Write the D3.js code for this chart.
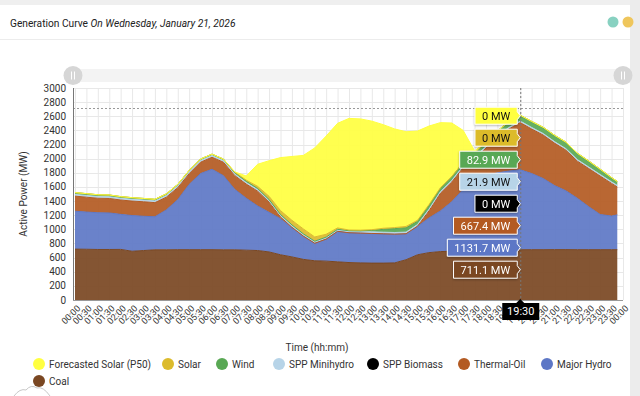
<!DOCTYPE html>
<html>
<head>
<meta charset="utf-8">
<script src="https://cdn.jsdelivr.net/npm/d3@7"></script>
<style>
  html, body { margin: 0; padding: 0; background: #fff; }
  svg { display: block; font-family: Roboto, "Liberation Sans", Arial, sans-serif; }
</style>
</head>
<body>
<svg id="chart" width="640" height="396"></svg>
<script>
// generation by source, MW, every 30 min (last point 23:45)
const times = ["00:00","00:30","01:00","01:30","02:00","02:30","03:00","03:30","04:00","04:30",
  "05:00","05:30","06:00","06:30","07:00","07:30","08:00","08:30","09:00","09:30",
  "10:00","10:30","11:00","11:30","12:00","12:30","13:00","13:30","14:00","14:30",
  "15:00","15:30","16:00","16:30","17:00","17:30","18:00","18:30","19:00","19:30",
  "20:00","20:30","21:00","21:30","22:00","22:30","23:00","23:30","23:45"];

const coal = [720,718,715,715,716,690,700,710,710,712,712,712,712,710,710,705,700,680,640,610,
  575,555,550,540,530,525,522,522,525,570,640,670,685,690,695,700,705,708,710,711.1,
  712,712,713,713,712,712,712,712,712];
const majorHydro = [536,527,520,517,496,505,485,468,565,708,924,1078,1138,1050,855,735,630,560,510,410,
  325,245,310,430,420,420,418,413,405,365,400,490,575,700,870,990,1055,1092,1115,1131.7,
  1078,1008,907,832,728,608,498,476,493];
const thermalOil = [214,210,205,205,203,205,205,200,180,170,152,160,170,190,195,200,210,145,25,10,
  5,3,2,2,2,2,2,2,2,3,5,100,250,280,308,310,390,500,595,667.4,
  630,615,600,575,525,540,544,462,395];
const sppBiomass = [0,0,0,0,0,0,0,0,0,0,0,0,0,0,0,0,0,0,0,0,
  0,0,0,0,0,0,0,0,0,0,0,0,0,0,0,0,0,0,0,0,
  0,0,0,0,0,0,0,0,0];
const sppMinihydro = [24,24,24,24,24,24,24,24,24,24,24,24,24,24,23,23,23,23,23,23,
  23,23,23,23,23,23,23,23,23,23,23,23,22,22,22,22,22,22,22,21.9,
  22,22,22,22,22,22,22,22,22];
const wind = [26,26,25,25,24,24,23,23,22,22,21,21,20,20,20,18,15,14,12,10,
  8,6,5,5,5,8,20,40,55,60,45,50,45,50,50,55,65,72,78,82.9,
  85,88,90,92,90,85,75,60,55];
const solar = [0,0,0,0,0,0,0,0,0,0,0,0,0,0,5,15,30,45,55,65,
  70,60,40,20,10,10,10,15,15,20,15,15,10,5,0,0,0,0,0,0,
  0,0,0,0,0,0,0,0,0];
const forecastSolar = [0,0,0,0,0,0,0,0,0,0,0,0,0,0,5,59,313,504,750,903,
  1040,1260,1390,1480,1580,1575,1536,1466,1396,1340,1263,1113,923,758,455,33,0,0,0,0,
  0,0,0,0,0,0,0,0,0];

const tickLabels = ["00:00","00:30","01:00","01:30","02:00","02:30","03:00","03:30","04:00","04:30",
  "05:00","05:30","06:00","06:30","07:00","07:30","08:00","08:30","09:00","09:30",
  "10:00","10:30","11:00","11:30","12:00","12:30","13:00","13:30","14:00","14:30",
  "15:00","15:30","16:00","16:30","17:00","17:30","18:00","18:30","19:00","19:30",
  "20:00","20:30","21:00","21:30","22:00","22:30","23:00","23:30","00:00"];
const yTicks = [0,200,400,600,800,1000,1200,1400,1600,1800,2000,2200,2400,2600,2800,3000];
const guideValue = 2710;
const cursorTime = "19:30";

// stack order, bottom to top
const series = [
  { key: "coal", name: "Coal", values: coal, color: "#7a4722", dark: false },
  { key: "hydro", name: "Major Hydro", values: majorHydro, color: "#5d77c6", dark: false },
  { key: "thermal", name: "Thermal-Oil", values: thermalOil, color: "#b35a22", dark: false },
  { key: "biomass", name: "SPP Biomass", values: sppBiomass, color: "#000000", dark: false },
  { key: "minihydro", name: "SPP Minihydro", values: sppMinihydro, color: "#b7d4e8", dark: true },
  { key: "wind", name: "Wind", values: wind, color: "#59a854", dark: false },
  { key: "solar", name: "Solar", values: solar, color: "#dcbb2c", dark: true },
  { key: "forecast", name: "Forecasted Solar (P50)", values: forecastSolar, color: "#ffff40", dark: true }
];

const toMin = s => { const p = s.split(":"); return +p[0] * 60 + +p[1]; };

const rows = times.map((t, i) => {
  const r = { t: toMin(t) };
  series.forEach(s => { r[s.key] = s.values[i]; });
  return r;
});

const svg = d3.select("#chart");
const W = 640, H = 396;
const plot = { left: 75, right: 623, top: 88, bottom: 300 };

// page frame
svg.append("rect").attr("width", W).attr("height", H).attr("fill", "#fff");
svg.append("rect").attr("x", 0).attr("y", 0).attr("width", W).attr("height", 5).attr("fill", "#efefef");
svg.append("rect").attr("x", 630).attr("y", 0).attr("width", 10).attr("height", H).attr("fill", "#ececec");
svg.append("line").attr("x1", 0).attr("x2", 630).attr("y1", 39.5).attr("y2", 39.5)
  .attr("stroke", "#ececec");

const title = svg.append("text").attr("x", 10).attr("y", 27)
  .attr("font-size", 10.2).attr("fill", "#212121");
title.append("tspan").text("Generation Curve ");
title.append("tspan").attr("font-style", "italic").text("On Wednesday, January 21, 2026");

svg.append("circle").attr("cx", 613).attr("cy", 22).attr("r", 5.5).attr("fill", "#88d1c1");
svg.append("circle").attr("cx", 628).attr("cy", 22).attr("r", 5.5).attr("fill", "#efc65c");

// scrollbar
svg.append("rect").attr("x", 73).attr("y", 69).attr("width", 550).attr("height", 13)
  .attr("fill", "#f3f3f3");
[73, 623].forEach(cx => {
  svg.append("circle").attr("cx", cx).attr("cy", 75.5).attr("r", 9.5).attr("fill", "#d6d6d6");
  [-1.5, 1.5].forEach(dx => {
    svg.append("line").attr("x1", cx + dx).attr("x2", cx + dx).attr("y1", 71.5).attr("y2", 79.5)
      .attr("stroke", "#fff").attr("stroke-width", 1);
  });
});

const x = d3.scaleLinear().domain([0, 1440]).range([plot.left, plot.right]);
const y = d3.scaleLinear().domain([0, 3000]).range([plot.bottom, plot.top]);

// grid
const grid = svg.append("g");
grid.selectAll(".vg").data(d3.range(0, 1441, 30)).enter().append("line")
  .attr("x1", d => x(d) + 0.5).attr("x2", d => x(d) + 0.5)
  .attr("y1", plot.top).attr("y2", plot.bottom)
  .attr("stroke", "#e8e8e8");
grid.selectAll(".hg").data(yTicks).enter().append("line")
  .attr("x1", plot.left - 2).attr("x2", plot.right)
  .attr("y1", d => Math.round(y(d)) + 0.5).attr("y2", d => Math.round(y(d)) + 0.5)
  .attr("stroke", "#e8e8e8");

svg.append("line").attr("x1", plot.left - 2).attr("x2", plot.right)
  .attr("y1", Math.round(y(guideValue)) + 0.5).attr("y2", Math.round(y(guideValue)) + 0.5)
  .attr("stroke", "#999").attr("stroke-dasharray", "2,2");

// stacked areas
const stack = d3.stack().keys(series.map(s => s.key));
const layers = stack(rows);
const area = d3.area()
  .x(d => x(d.data.t))
  .y0(d => y(d[0]))
  .y1(d => y(d[1]));
const line = d3.line()
  .x(d => x(d.data.t))
  .y(d => y(d[1]));

svg.append("g").selectAll("path").data(layers).enter().append("path")
  .attr("d", area)
  .attr("fill", (d, i) => series[i].color)
  .attr("fill-opacity", 0.92);
// outline only for series that carry energy
svg.append("g").selectAll("path").data(layers.filter((d, i) => d3.max(series[i].values) > 0))
  .enter().append("path")
  .attr("d", line)
  .attr("fill", "none")
  .attr("stroke", d => series.find(s => s.key === d.key).color)
  .attr("stroke-width", 1);

// axes
svg.append("line").attr("x1", plot.left - 1.5).attr("x2", plot.left - 1.5)
  .attr("y1", plot.top).attr("y2", plot.bottom + 1).attr("stroke", "#777");
svg.append("line").attr("x1", plot.left - 2).attr("x2", plot.right)
  .attr("y1", plot.bottom + 0.5).attr("y2", plot.bottom + 0.5).attr("stroke", "#999");

svg.append("g").selectAll("text").data(yTicks).enter().append("text")
  .attr("x", 66).attr("y", d => y(d)).attr("dy", "0.35em")
  .attr("text-anchor", "end").attr("font-size", 10).attr("fill", "#333")
  .text(d => d);

svg.append("text").attr("transform", "translate(27,194) rotate(-90)")
  .attr("text-anchor", "middle").attr("font-size", 10).attr("fill", "#333")
  .text("Active Power (MW)");

svg.append("g").selectAll("text").data(tickLabels).enter().append("text")
  .attr("transform", (d, i) => `translate(${x(i * 30) + 6},${309}) rotate(-45)`)
  .attr("text-anchor", "end").attr("font-size", 9).attr("fill", "#333")
  .text(d => d);

svg.append("text").attr("x", 317).attr("y", 351).attr("text-anchor", "middle")
  .attr("font-size", 10).attr("fill", "#333").text("Time (hh:mm)");

// legend
const legendItems = [
  { s: "forecast", cx: 39, row: 0 }, { s: "solar", cx: 168, row: 0 },
  { s: "wind", cx: 222, row: 0 }, { s: "minihydro", cx: 279, row: 0 },
  { s: "biomass", cx: 373, row: 0 }, { s: "thermal", cx: 464, row: 0 },
  { s: "hydro", cx: 547, row: 0 }, { s: "coal", cx: 39, row: 1 }
];
const lg = svg.append("g").selectAll("g").data(legendItems).enter().append("g")
  .attr("transform", d => `translate(${d.cx},${364 + d.row * 17})`);
lg.append("circle").attr("r", 6).attr("fill", d => series.find(s => s.key === d.s).color);
lg.append("text").attr("x", 10).attr("dy", "0.35em").attr("font-size", 10).attr("fill", "#333")
  .text(d => series.find(s => s.key === d.s).name);

// little logo, bottom-left
svg.append("path").attr("d", "M14,396 Q20,388 26,390 Q31,384 37,388 Q43,386 50,396")
  .attr("fill", "none").attr("stroke", "#c8c8c8").attr("stroke-width", 1);

// cursor and tooltips
const ci = times.indexOf(cursorTime);
const cx = x(toMin(cursorTime));
svg.append("line").attr("x1", cx + 0.5).attr("x2", cx + 0.5).attr("y1", plot.top).attr("y2", plot.bottom)
  .attr("stroke", "#777").attr("stroke-dasharray", "2,2");

const defs = svg.append("defs");
const f = defs.append("filter").attr("id", "sh").attr("x", "-20%").attr("y", "-30%")
  .attr("width", "140%").attr("height", "160%");
f.append("feDropShadow").attr("dx", 0).attr("dy", 1).attr("stdDeviation", 1)
  .attr("flood-color", "#000").attr("flood-opacity", 0.3);

const topY = y(layers[layers.length - 1][ci][1]);
const tips = series.slice().reverse();
const tg = svg.append("g");
tips.forEach((s, i) => {
  const cy = topY + 0.5 + i * 22;
  const g = tg.append("g").attr("filter", "url(#sh)");
  const label = `${+s.values[ci].toFixed(1)} MW`;
  const txt = g.append("text").attr("font-size", 11).text(label);
  const w = txt.node().getComputedTextLength() + 14;
  const right = cx - 3;
  g.insert("path", "text")
    .attr("d", `M${right - w},${cy - 8.5} H${right} V${cy - 4} L${cx},${cy} L${right},${cy + 4} V${cy + 8.5} H${right - w} Z`)
    .attr("fill", s.color).attr("stroke", "#fff").attr("stroke-width", 1);
  txt.attr("x", right - w / 2).attr("y", cy).attr("dy", "0.35em").attr("text-anchor", "middle")
    .attr("fill", s.dark ? "#111" : "#fff");
});

// x cursor label
const xg = svg.append("g");
xg.append("path")
  .attr("d", `M${cx - 18},${303} H${cx - 4} L${cx},${299} L${cx + 4},${303} H${cx + 19} V${320} H${cx - 18} Z`)
  .attr("fill", "#000");
xg.append("text").attr("x", cx + 0.5).attr("y", 311.5).attr("dy", "0.35em").attr("text-anchor", "middle")
  .attr("font-size", 11).attr("fill", "#fff").text(cursorTime);
</script>
</body>
</html>
